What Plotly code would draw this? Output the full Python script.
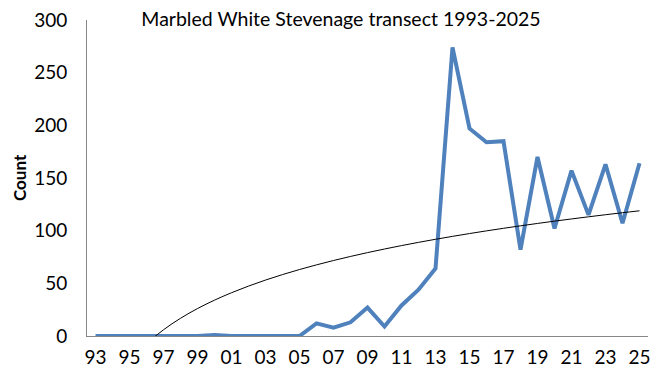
import numpy as np
import plotly.graph_objects as go

years = ["93","94","95","96","97","98","99","00","01","02","03","04","05","06","07","08",
         "09","10","11","12","13","14","15","16","17","18","19","20","21","22","23","24","25"]
counts = [0,0,0,0,0,0,0,1,0,0,0,0,0,12,8,13,27,9,29,44,64,274,197,184,185,82,170,102,157,115,163,107,164]

idx = np.arange(len(years))
# Logarithmic trendline (least squares on ln(x), x = 1..n)
xn = idx + 1
a, b = np.polyfit(np.log(xn), np.array(counts, dtype=float), 1)
trend = a * np.log(xn) + b

fig = go.Figure()
fig.add_trace(go.Scatter(x=idx, y=counts, mode="lines",
                         line=dict(color="#4F81BD", width=4), showlegend=False))
fig.add_trace(go.Scatter(x=idx, y=trend, mode="lines",
                         line=dict(color="black", width=1, shape="spline"), showlegend=False))

font = "Lato, Open Sans, sans-serif"
# page body has an 8px default margin, so the figure is offset by 8px
OFF = 8
W, H = 661 - OFF, 380 - OFF
L, R, T, B = 87 - OFF, 13, 20 - OFF, 44
fig.update_layout(
    width=W, height=H,
    margin=dict(l=L, r=R, t=T, b=B, autoexpand=False),
    paper_bgcolor="white", plot_bgcolor="white",
    font=dict(family=font, color="black"),
    title=dict(text="Marbled White Stevenage transect 1993-2025", x=(341 - OFF) / W, xanchor="center",
               y=1 - (19.5 - OFF) / H, yanchor="middle", font=dict(size=19.5, family=font, color="black")),
)
fig.add_annotation(text="<b>Count</b>", xref="paper", yref="paper",
                   x=(19 - 87) / (W - L - R), y=0.5, xanchor="center", yanchor="middle",
                   textangle=-90, showarrow=False, font=dict(size=17, family=font, color="black"))
fig.update_xaxes(range=[-0.5, len(years) - 0.5], tickvals=idx[::2], ticktext=years[::2],
                 showgrid=False, zeroline=False, showline=True, linecolor="#878787", linewidth=1,
                 ticks="", tickfont=dict(size=19), automargin=False, ticklabelstandoff=4,
                 ticklabeloverflow="allow")
fig.update_yaxes(range=[0, 300], tickvals=[0,50,100,150,200,250,300], showgrid=False,
                 zeroline=False, showline=True, linecolor="#878787", linewidth=1, ticks="",
                 tickfont=dict(size=19), ticklabelstandoff=15, automargin=False,
                 ticklabeloverflow="allow")
fig.write_html("out.html")
